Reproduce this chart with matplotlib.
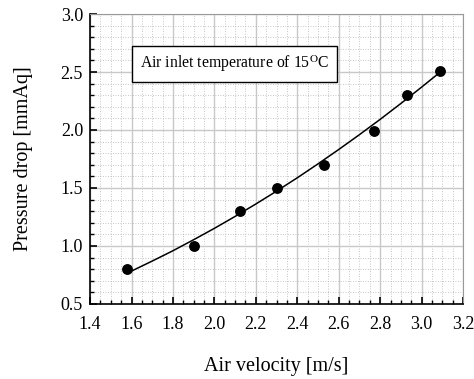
import matplotlib
matplotlib.use("Agg")
import matplotlib.pyplot as plt
from matplotlib.ticker import MultipleLocator, FormatStrFormatter

# measured points
velocity = [1.577, 1.90, 2.125, 2.30, 2.53, 2.77, 2.93, 3.09]
pressure = [0.80, 1.00, 1.30, 1.50, 1.70, 1.99, 2.30, 2.51]

# fitted curve
fit_x = [1.59, 1.70, 1.80, 1.90, 2.00, 2.10, 2.20, 2.30, 2.40, 2.50,
         2.60, 2.70, 2.80, 2.90, 3.00, 3.09]
fit_y = [0.775, 0.870, 0.959, 1.054, 1.152, 1.255, 1.362, 1.473, 1.588, 1.708,
         1.832, 1.960, 2.092, 2.229, 2.370, 2.500]

plt.rcParams["font.family"] = ["Liberation Serif", "DejaVu Serif"]
plt.rcParams["mathtext.fontset"] = "stix"

fig = plt.figure(figsize=(4.74, 3.79), dpi=100)
ax = fig.add_axes([0.190, 0.198, 0.787, 0.765])

ax.plot(fit_x, fit_y, color="black", lw=1.1, zorder=3)
ax.plot(velocity, pressure, "o", color="black", ms=6.8, zorder=4)

ax.set_xlim(1.4, 3.2)
ax.set_ylim(0.5, 3.0)
ax.xaxis.set_major_locator(MultipleLocator(0.2))
ax.xaxis.set_minor_locator(MultipleLocator(0.05))
ax.yaxis.set_major_locator(MultipleLocator(0.5))
ax.yaxis.set_minor_locator(MultipleLocator(0.1))
ax.xaxis.set_major_formatter(FormatStrFormatter("%.1f"))
ax.yaxis.set_major_formatter(FormatStrFormatter("%.1f"))

ax.grid(which="major", color="#c8c8c8", lw=1.0, ls="-")
ax.grid(which="minor", color="#b4b4b4", lw=0.6, ls=(0, (1, 2)))
ax.set_axisbelow(True)

ax.tick_params(which="both", direction="in", top=False, right=False,
               labelsize=13, colors="black")
ax.tick_params(which="major", length=5, width=1.2)
ax.tick_params(axis="x", which="major", pad=9)
ax.tick_params(axis="y", which="major", pad=5)
ax.tick_params(which="minor", length=3, width=1.0)

for side in ("top", "right"):
    ax.spines[side].set_color("#999999")
for side in ("left", "bottom"):
    ax.spines[side].set_linewidth(1.2)

ax.set_xlabel("Air velocity [m/s]", fontsize=14.5, labelpad=17)
ax.set_ylabel("Pressure drop [mmAq]", fontsize=14.5, labelpad=20)

ax.text(2.096, 2.57, r"Air inlet temperature of 15$^{\rm O}$C", fontsize=11.3,
        ha="center", va="center", zorder=5,
        bbox=dict(boxstyle="square,pad=0.5", fc="white", ec="black", lw=1.0))

fig.savefig("out.png", dpi=100)
